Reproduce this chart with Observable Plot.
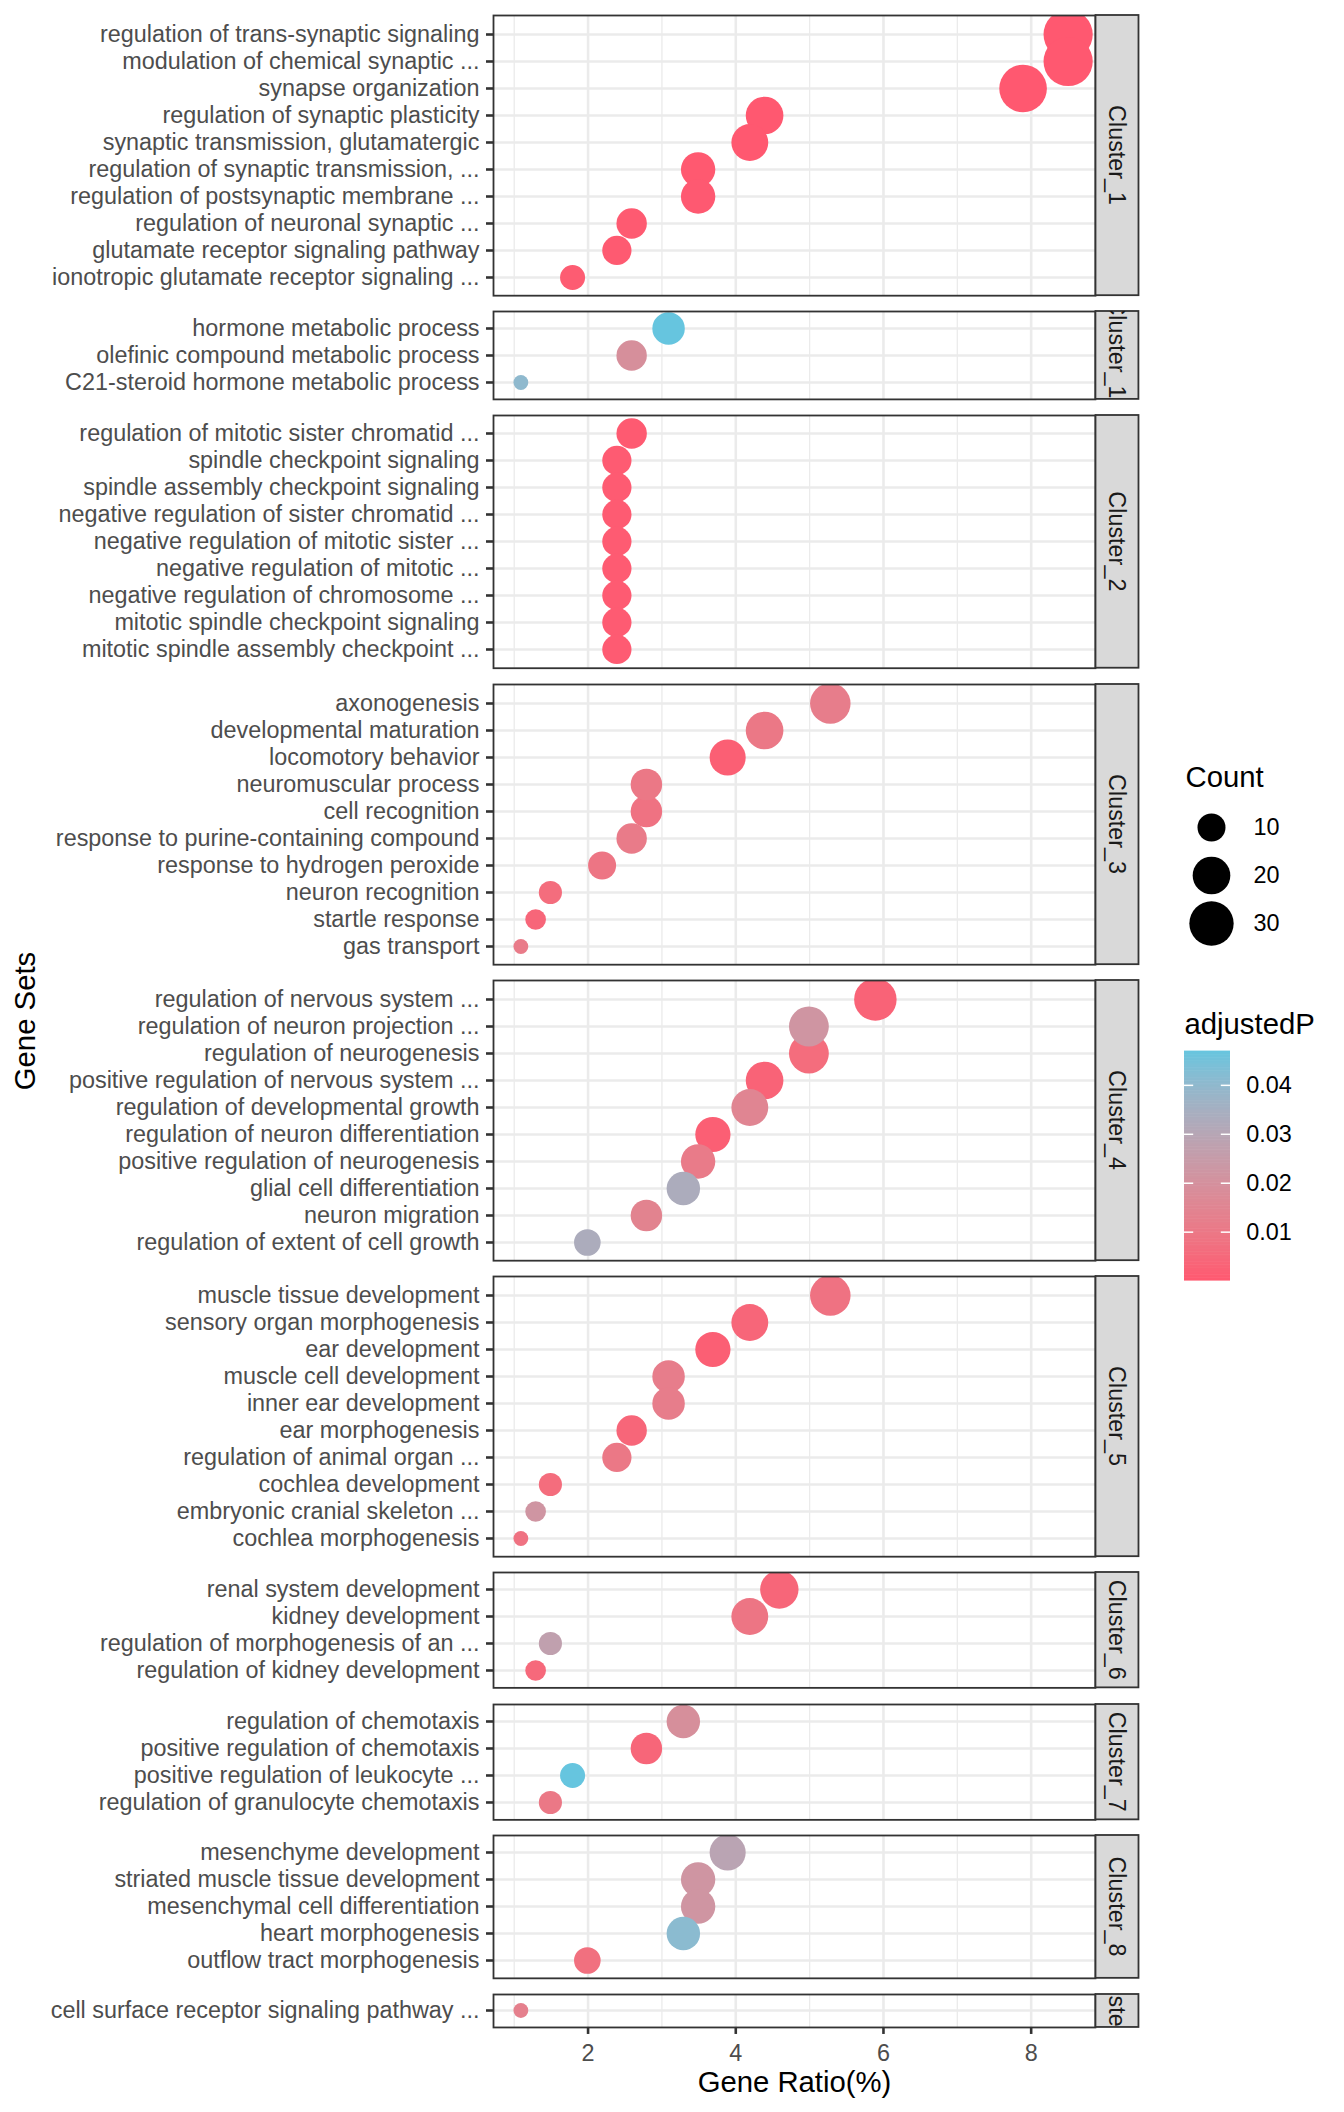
<!DOCTYPE html>
<html>
<head>
<meta charset="utf-8">
<script src="https://cdn.jsdelivr.net/npm/d3@7"></script>
<script src="https://cdn.jsdelivr.net/npm/@observablehq/plot@0.6"></script>
<style>
  body { margin: 0; background: #ffffff; }
  #chart { position: relative; width: 1344px; height: 2112px; background: #ffffff;
           font-family: "Liberation Sans", Arial, Helvetica, sans-serif; }
  #chart > svg { position: absolute; }
  .ytitle { position: absolute; white-space: nowrap; font-size: 29.3px; color: #000;
            transform: translate(-50%, -50%) rotate(-90deg); }
</style>
</head>
<body>
<div id="chart"></div>
<script>
// ---------------- data ----------------
const clusterNames = ["Cluster_1", "Cluster_10", "Cluster_2", "Cluster_3", "Cluster_4",
                      "Cluster_5", "Cluster_6", "Cluster_7", "Cluster_8", "Cluster_9"];

const clusterOf = [
  "Cluster_1","Cluster_1","Cluster_1","Cluster_1","Cluster_1","Cluster_1","Cluster_1","Cluster_1","Cluster_1","Cluster_1",
  "Cluster_10","Cluster_10","Cluster_10",
  "Cluster_2","Cluster_2","Cluster_2","Cluster_2","Cluster_2","Cluster_2","Cluster_2","Cluster_2","Cluster_2",
  "Cluster_3","Cluster_3","Cluster_3","Cluster_3","Cluster_3","Cluster_3","Cluster_3","Cluster_3","Cluster_3","Cluster_3",
  "Cluster_4","Cluster_4","Cluster_4","Cluster_4","Cluster_4","Cluster_4","Cluster_4","Cluster_4","Cluster_4","Cluster_4",
  "Cluster_5","Cluster_5","Cluster_5","Cluster_5","Cluster_5","Cluster_5","Cluster_5","Cluster_5","Cluster_5","Cluster_5",
  "Cluster_6","Cluster_6","Cluster_6","Cluster_6",
  "Cluster_7","Cluster_7","Cluster_7","Cluster_7",
  "Cluster_8","Cluster_8","Cluster_8","Cluster_8","Cluster_8",
  "Cluster_9"
];

const geneSets = [
  "regulation of trans-synaptic signaling",
  "modulation of chemical synaptic ...",
  "synapse organization",
  "regulation of synaptic plasticity",
  "synaptic transmission, glutamatergic",
  "regulation of synaptic transmission, ...",
  "regulation of postsynaptic membrane ...",
  "regulation of neuronal synaptic ...",
  "glutamate receptor signaling pathway",
  "ionotropic glutamate receptor signaling ...",
  "hormone metabolic process",
  "olefinic compound metabolic process",
  "C21-steroid hormone metabolic process",
  "regulation of mitotic sister chromatid ...",
  "spindle checkpoint signaling",
  "spindle assembly checkpoint signaling",
  "negative regulation of sister chromatid ...",
  "negative regulation of mitotic sister ...",
  "negative regulation of mitotic ...",
  "negative regulation of chromosome ...",
  "mitotic spindle checkpoint signaling",
  "mitotic spindle assembly checkpoint ...",
  "axonogenesis",
  "developmental maturation",
  "locomotory behavior",
  "neuromuscular process",
  "cell recognition",
  "response to purine-containing compound",
  "response to hydrogen peroxide",
  "neuron recognition",
  "startle response",
  "gas transport",
  "regulation of nervous system ...",
  "regulation of neuron projection ...",
  "regulation of neurogenesis",
  "positive regulation of nervous system ...",
  "regulation of developmental growth",
  "regulation of neuron differentiation",
  "positive regulation of neurogenesis",
  "glial cell differentiation",
  "neuron migration",
  "regulation of extent of cell growth",
  "muscle tissue development",
  "sensory organ morphogenesis",
  "ear development",
  "muscle cell development",
  "inner ear development",
  "ear morphogenesis",
  "regulation of animal organ ...",
  "cochlea development",
  "embryonic cranial skeleton ...",
  "cochlea morphogenesis",
  "renal system development",
  "kidney development",
  "regulation of morphogenesis of an ...",
  "regulation of kidney development",
  "regulation of chemotaxis",
  "positive regulation of chemotaxis",
  "positive regulation of leukocyte ...",
  "regulation of granulocyte chemotaxis",
  "mesenchyme development",
  "striated muscle tissue development",
  "mesenchymal cell differentiation",
  "heart morphogenesis",
  "outflow tract morphogenesis",
  "cell surface receptor signaling pathway ..."
];

const geneRatio = [
  8.50, 8.50, 7.89, 4.39, 4.19, 3.49, 3.49, 2.59, 2.39, 1.79,
  3.09, 2.59, 1.09,
  2.59, 2.39, 2.39, 2.39, 2.39, 2.39, 2.39, 2.39, 2.39,
  5.28, 4.39, 3.89, 2.79, 2.79, 2.59, 2.19, 1.49, 1.29, 1.09,
  5.89, 4.99, 4.99, 4.39, 4.19, 3.69, 3.49, 3.29, 2.79, 1.99,
  5.28, 4.19, 3.69, 3.09, 3.09, 2.59, 2.39, 1.49, 1.29, 1.09,
  4.59, 4.19, 1.49, 1.29,
  3.29, 2.79, 1.79, 1.49,
  3.89, 3.49, 3.49, 3.29, 1.99,
  1.09
];

const counts = [
  39, 39, 36, 20, 19, 16, 16, 12, 11, 8,
  14, 12, 5,
  12, 11, 11, 11, 11, 11, 11, 11, 11,
  24, 20, 18, 13, 13, 12, 10, 7, 6, 5,
  27, 23, 23, 20, 19, 17, 16, 15, 13, 9,
  24, 19, 17, 14, 14, 12, 11, 7, 6, 5,
  21, 19, 7, 6,
  15, 13, 8, 7,
  18, 16, 16, 15, 9,
  5
];

const adjustedP = [
  0.0000001, 0.0000001, 0.000001, 0.00002, 0.00001, 0.0002, 0.0003, 0.0005, 0.0004, 0.001,
  0.047, 0.019, 0.040,
  0.0005, 0.0008, 0.0008, 0.0008, 0.0008, 0.0008, 0.0008, 0.0008, 0.0008,
  0.012, 0.010, 0.002, 0.010, 0.008, 0.011, 0.009, 0.006, 0.004, 0.011,
  0.003, 0.022, 0.006, 0.003, 0.015, 0.002, 0.011, 0.033, 0.014, 0.033,
  0.008, 0.004, 0.002, 0.012, 0.012, 0.004, 0.010, 0.006, 0.022, 0.008,
  0.004, 0.009, 0.027, 0.005,
  0.019, 0.004, 0.047, 0.010,
  0.029, 0.022, 0.022, 0.041, 0.007,
  0.013
];

const majorTicks = [2, 4, 6, 8];
const minorTicks = [1, 3, 5, 7];
const sizeKeys = [10, 20, 30];
const colorTicks = [0.01, 0.02, 0.03, 0.04];
const xTitle = "Gene Ratio(%)";
const yTitle = "Gene Sets";
const sizeTitle = "Count";
const colorTitle = "adjustedP";

// ---------------- layout / style ----------------
const FONT = '"Liberation Sans", Arial, Helvetica, sans-serif';
const fs = 23.4, fsTitle = 29.3;
const step = 27.47, gap = 16, top0 = 15;
const frameLeft = 493, frameRight = 1095, stripW = 43, svgW = 1150;
const lowColor = "#FF5870", highColor = "#66C5DF";
const gridColor = "#EBEBEB", borderColor = "#333333";

const rows = geneSets.map((g, i) => ({
  cluster: clusterOf[i], term: g, ratio: geneRatio[i], count: counts[i], p: adjustedP[i]
}));

const cmin = d3.min(counts), cmax = d3.max(counts);
const rOf = v => 1 + Math.sqrt(v - cmin);            // ggplot-like area mapping
const rOpts = {type: "linear", domain: [1, 1 + Math.sqrt(cmax - cmin)], range: [7.4, 24.6]};

const xExt = d3.extent(geneRatio);
const xPad = (xExt[1] - xExt[0]) * 0.05;
const xDomain = [xExt[0] - xPad, xExt[1] + xPad];

const pExt = d3.extent(adjustedP);
const colorOpts = {type: "linear", domain: pExt, range: [lowColor, highColor], interpolate: "lab"};

const chart = document.getElementById("chart");

function stripMark(label) {
  return (index, scales, values, dims) => {
    const x = dims.width - dims.marginRight + 0.5;
    const y = dims.marginTop;
    const h = dims.height - dims.marginTop - dims.marginBottom;
    const g = d3.create("svg:g");
    g.append("rect")
      .attr("x", x).attr("y", y).attr("width", stripW).attr("height", h)
      .attr("fill", "#D9D9D9").attr("stroke", borderColor).attr("stroke-width", 1.8);
    const inner = g.append("svg")
      .attr("x", x).attr("y", y).attr("width", stripW).attr("height", h)
      .attr("overflow", "hidden");
    inner.append("text")
      .attr("transform", `translate(${stripW / 2},${h / 2}) rotate(90)`)
      .attr("text-anchor", "middle").attr("dy", "0.35em")
      .attr("fill", "#1A1A1A").attr("font-size", fs)
      .text(label);
    return g.node();
  };
}

let y0 = top0;
clusterNames.forEach((c, k) => {
  const data = rows.filter(d => d.cluster === c);
  const terms = data.map(d => d.term);
  const h = (terms.length + 0.2) * step;
  const last = k === clusterNames.length - 1;
  const mb = last ? 82 : 0;
  const drawOrder = data.slice().sort((a, b) => a.p - b.p);
  const svg = Plot.plot({
    width: svgW,
    height: h + mb,
    marginLeft: frameLeft,
    marginRight: svgW - frameRight,
    marginTop: 0,
    marginBottom: mb,
    style: {fontFamily: FONT, fontSize: fs + "px", background: "none", overflow: "visible"},
    x: {domain: xDomain, axis: null},
    y: {type: "point", domain: terms, padding: 0.6},
    r: rOpts,
    color: colorOpts,
    marks: [
      Plot.ruleX(minorTicks, {stroke: gridColor, strokeWidth: 1.3}),
      Plot.ruleX(majorTicks, {stroke: gridColor, strokeWidth: 2.6}),
      Plot.ruleY(terms, {stroke: gridColor, strokeWidth: 2.6}),
      Plot.dot(drawOrder, {x: "ratio", y: "term", r: d => rOf(d.count), fill: "p", clip: true}),
      Plot.frame({stroke: borderColor, strokeWidth: 1.8}),
      Plot.axisY({tickSize: 7, tickPadding: 7, stroke: borderColor, strokeWidth: 2.6,
                  fill: "#4D4D4D", fontSize: fs, label: null}),
      last ? Plot.axisX({ticks: majorTicks, tickSize: 7, tickPadding: 10, stroke: borderColor,
                         strokeWidth: 2.6, fill: "#4D4D4D", fontSize: fs, label: null}) : null,
      last ? Plot.text([xTitle], {frameAnchor: "bottom", dy: 55, lineAnchor: "middle",
                                  fontSize: fsTitle, fill: "#000000"}) : null,
      stripMark(c)
    ]
  });
  svg.style.left = "0px";
  svg.style.top = y0 + "px";
  chart.appendChild(svg);
  y0 += h + gap;
});

// y axis title
const yt = document.createElement("div");
yt.className = "ytitle";
yt.textContent = yTitle;
yt.style.left = "25px";
yt.style.top = ((top0 + (y0 - gap)) / 2) + "px";
chart.appendChild(yt);

// size legend
const sizeLegend = Plot.plot({
  width: 190, height: 61.75 + 145.5 + 6,
  marginLeft: 25, marginRight: 0, marginTop: 61.75, marginBottom: 6,
  style: {fontFamily: FONT, fontSize: fs + "px", background: "none", overflow: "visible"},
  x: {domain: [0, 1], range: [51, 93], axis: null},
  y: {type: "point", domain: sizeKeys, padding: 0.5, axis: null},
  r: rOpts,
  marks: [
    Plot.dot(sizeKeys, {x: 0, y: d => d, r: d => rOf(d), fill: "#000000"}),
    Plot.text(sizeKeys, {x: 1, y: d => d, text: d => String(d), textAnchor: "start",
                         fontSize: fs, fill: "#000000"}),
    Plot.text([sizeTitle], {frameAnchor: "top-left", dy: -24.75, lineAnchor: "middle",
                            textAnchor: "start", fontSize: fsTitle, fill: "#000000"})
  ]
});
sizeLegend.style.left = "1160px";
sizeLegend.style.top = "740px";
chart.appendChild(sizeLegend);

// color bar legend
const nb = 160;
const bands = d3.range(nb).map(i => {
  const a = pExt[0] + (pExt[1] - pExt[0]) * i / nb;
  const b = pExt[0] + (pExt[1] - pExt[0]) * (i + 1) / nb;
  return {a, b: Math.min(pExt[1], b + (b - a) * 0.4), m: (a + b) / 2};
});
const cbTop = 60.6, cbH = 230;
const colorLegend = Plot.plot({
  width: 184, height: cbTop + cbH + 15,
  marginLeft: 24, marginRight: 0, marginTop: cbTop, marginBottom: 15,
  style: {fontFamily: FONT, fontSize: fs + "px", background: "none", overflow: "visible"},
  x: {domain: [0, 1], range: [24, 70], axis: null},
  y: {domain: pExt, range: [cbTop + cbH, cbTop], axis: null},
  color: colorOpts,
  marks: [
    Plot.rect(bands, {x1: 0, x2: 1, y1: "a", y2: "b", fill: "m"}),
    Plot.ruleY(colorTicks, {x1: 0, x2: 0.2, stroke: "#ffffff", strokeWidth: 1.5}),
    Plot.ruleY(colorTicks, {x1: 0.8, x2: 1, stroke: "#ffffff", strokeWidth: 1.5}),
    Plot.text(colorTicks, {x: 1, y: d => d, text: d => d.toFixed(2), textAnchor: "start",
                           dx: 15.7, fontSize: fs, fill: "#000000"}),
    Plot.text([colorTitle], {frameAnchor: "top-left", dy: -26.9, lineAnchor: "middle",
                             textAnchor: "start", fontSize: fsTitle, fill: "#000000"})
  ]
});
colorLegend.style.left = "1160px";
colorLegend.style.top = "990px";
chart.appendChild(colorLegend);
</script>
</body>
</html>
